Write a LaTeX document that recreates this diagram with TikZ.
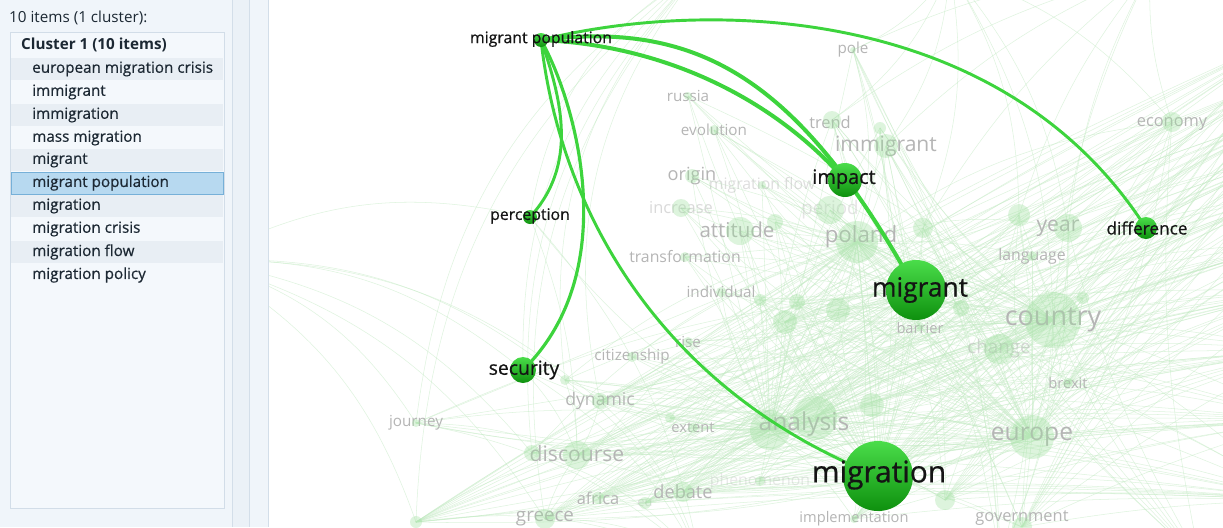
\documentclass[tikz,border=0pt]{standalone}
\usepackage{fontspec}
\setmainfont{Open Sans}
\newfontface\listfont[FakeBold=0.5]{Open Sans}
\newfontface\labfont[FakeBold=0.6]{Open Sans}
\definecolor{panelbg}{HTML}{F0F5FA}
\definecolor{stripbg}{HTML}{EBF1F7}
\definecolor{stripline}{HTML}{D3DEE9}
\definecolor{boxbg}{HTML}{F4F8FC}
\definecolor{boxline}{HTML}{D2DDE8}
\definecolor{rowalt}{HTML}{E8EEF4}
\definecolor{selfill}{HTML}{B7D9F0}
\definecolor{selline}{HTML}{76B0D8}
\definecolor{listtext}{HTML}{1C2833}
\definecolor{edgegreen}{HTML}{3DD43D}
\definecolor{nodetop}{HTML}{4ADD4A}
\definecolor{nodebot}{HTML}{0E900E}
\definecolor{fadetext}{HTML}{B5B5B5}
\definecolor{fadegreen}{HTML}{9EE09E}
\definecolor{faintline}{HTML}{C4EBC4}
\tikzset{
  listitem/.style={anchor=west, inner sep=0pt, text=listtext, font=\listfont\fontsize{13pt}{15pt}\selectfont},
  mnode/.style={circle, inner sep=0pt, minimum size=#1*0.03cm, top color=nodetop, bottom color=nodebot, draw=none},
  mlabel/.style={inner sep=0pt, text=black!92, font=\labfont\fontsize{#1}{#1}\selectfont},
  mainedge/.style={draw=edgegreen, line width=#1, line cap=round},
  fadelabel/.style={inner sep=0pt, text=fadetext, font=\fontsize{#1}{#1}\selectfont},
  bubble/.style={circle, inner sep=0pt, minimum size=#1*0.06cm, fill=fadegreen, fill opacity=0.35, draw=none},
  faint/.style={draw=faintline, line width=0.45pt, opacity=0.55},
}
\begin{document}
\begin{tikzpicture}[x=0.03cm,y=-0.03cm]
\useasboundingbox (0,0) rectangle (1223,527);
\fill[white] (0,0) rectangle (1223,527);

% ---------- left panel ----------
\fill[panelbg] (0,0) rectangle (268,527);
\fill[stripbg] (232,0) rectangle (249,527);
\draw[stripline, line width=0.8pt] (232,0) -- (232,527);
\draw[stripline, line width=0.8pt] (249,0) -- (249,527);
\draw[stripline, line width=0.8pt] (268,0) -- (268,527);
\node[anchor=west, inner sep=0pt, text=listtext, font=\fontsize{13pt}{15pt}\selectfont] (hdr) at (9,18) {10 items (1 cluster):};
\draw[boxline, fill=boxbg, line width=0.8pt] (10,32) rectangle (224,508);
\foreach \yy in {69,115,160,206,252} { \fill[rowalt] (11,\yy-11) rectangle (223,\yy+11); }
\draw[selline, fill=selfill, line width=0.8pt] (11,172) rectangle (223,194);
\node[listitem, font=\bfseries\fontsize{13pt}{15pt}\selectfont] (cl) at (21,45) {Cluster 1 (10 items)};
\node[listitem] (i1) at (32,69) {european migration crisis};
\node[listitem] (i2) at (32,92) {immigrant};
\node[listitem] (i3) at (32,115) {immigration};
\node[listitem] (i4) at (32,138) {mass migration};
\node[listitem] (i5) at (32,160) {migrant};
\node[listitem] (i6) at (32,183) {migrant population};
\node[listitem] (i7) at (32,206) {migration};
\node[listitem] (i8) at (32,229) {migration crisis};
\node[listitem] (i9) at (32,252) {migration flow};
\node[listitem] (i10) at (32,275) {migration policy};

% ---------- network ----------
\begin{scope}
\clip (269,0) rectangle (1223,527);
% main node positions
\coordinate (mp) at (541,40);
\coordinate (perc) at (530,217);
\coordinate (sec) at (523,370);
\coordinate (imp) at (845,180);
\coordinate (mgt) at (916,290);
\coordinate (mig) at (878,476);
\coordinate (diff) at (1146,228);

% background bubbles positions
\foreach \x/\y/\r [count=\i] in {688/96/4,714/130/5,832/120/9,886/146/12,1172/122/10,692/176/7,762/185/4,681/208/9,830/210/14,740/231/14,775/222/8,857/242/21,923/228/10,1019/215/11,1068/228/14,1032/256/5,685/257/5,721/292/5,797/302/8,785/322/12,838/310/12,760/300/6,1053/320/28,1083/298/6,961/308/8,999/349/15,688/342/5,632/357/5,565/380/5,1068/383/5,600/401/8,416/423/4,670/418/5,693/428/5,770/430/20,815/418/22,872/405/12,1032/437/22,532/453/8,577/455/14,683/492/10,598/498/6,645/503/6,545/519/10,945/500/10,1022/527/10,416/522/6,880/128/6,853/50/3,920/326/4,854/519/4,760/481/5}
  { \coordinate (b\i) at (\x,\y); }

% off-canvas ends for the background bundle
\foreach \yy [count=\k] in {30,70,110,150,190,240,290,350,420,500}
  { \coordinate (R\k) at (1300,\yy); }
\coordinate (T1) at (700,-30);
\coordinate (T2) at (950,-30);
\coordinate (T3) at (1150,-30);
\coordinate (L1) at (200,260);
\coordinate (D1) at (700,560);
\coordinate (D2) at (1000,560);
\coordinate (D3) at (1200,560);

% faint background lines
\foreach \i in {1,...,52} {
  \pgfmathsetmacro{\bA}{mod(\i,5)*7-14}
  \pgfmathsetmacro{\bB}{mod(\i,3)*9-9}
  \draw[faint] (b\i) to[bend left=\bA] (mig);
  \draw[faint] (b\i) to[bend left=\bB] (mgt);
  \draw[faint] (b\i) to[bend right=\bA] (b23);
  \draw[faint] (b\i) to[bend left=\bB] (b35);
  \draw[faint] (b\i) to[bend right=\bB] (b38);
  \draw[faint] (b\i) to[bend left=\bA] (b12);
}
\foreach \s in {mig,b35,b36,b38,b40,b41,b44,b45,b46,b47,b42,b31,b23,b26,b30,b20,b43,b51} {
  \foreach \k in {1,...,10} {
    \draw[faint] (\s) to[bend left=4] (R\k);
  }
}
\foreach \s in {b32,b47,b29,b39,b44,sec,perc,b31} {
  \draw[faint] (\s) to[bend left=25] (T1);
  \draw[faint] (\s) to[bend right=20] (L1);
  \draw[faint] (\s) to[bend left=15] (D1);
  \draw[faint] (\s) to[bend right=10] (b35);
  \draw[faint] (\s) to[bend left=10] (b40);
}
\foreach \s in {b5,b15,b23,b14,b13,b4,b3,b49} {
  \draw[faint] (\s) to[bend right=15] (T2);
  \draw[faint] (\s) to[bend left=10] (T3);
  \draw[faint] (\s) to[bend left=12] (D2);
  \draw[faint] (\s) to[bend right=8] (D3);
}

% faded labels
\node[fadelabel=13pt] (l-pole) at (853,50) {pole};
\node[fadelabel=13pt] (l-russia) at (688,96) {russia};
\node[fadelabel=13pt] (l-evolution) at (714,130) {evolution};
\node[fadelabel=14pt] (l-trend) at (830,122) {trend};
\node[fadelabel=18pt] (l-immigrant) at (886,146) {immigrant};
\node[fadelabel=14pt] (l-economy) at (1172,124) {economy};
\node[fadelabel=15.5pt] (l-origin) at (692,176) {origin};
\node[fadelabel=13.5pt, opacity=0.45] (l-flow) at (762,185) {migration flow};
\node[fadelabel=14pt, opacity=0.5] (l-increase) at (681,208) {increase};
\node[fadelabel=16pt, opacity=0.35] (l-period) at (830,210) {period};
\node[fadelabel=17.5pt] (l-attitude) at (737,230) {attitude};
\node[fadelabel=19pt] (l-poland) at (861,237) {poland};
\node[fadelabel=18pt] (l-year) at (1058,228) {year};
\node[fadelabel=13.5pt] (l-language) at (1032,256) {language};
\node[fadelabel=13.5pt] (l-transformation) at (685,257) {transformation};
\node[fadelabel=13pt] (l-individual) at (721,292) {individual};
\node[fadelabel=23pt] (l-country) at (1053,320) {country};
\node[fadelabel=12.5pt] (l-barrier) at (920,328) {barrier};
\node[fadelabel=16pt, opacity=0.5] (l-change) at (999,349) {change};
\node[fadelabel=13pt] (l-rise) at (688,342) {rise};
\node[fadelabel=13pt] (l-citizenship) at (632,357) {citizenship};
\node[fadelabel=12.5pt] (l-brexit) at (1068,383) {brexit};
\node[fadelabel=15pt] (l-dynamic) at (600,401) {dynamic};
\node[fadelabel=13pt] (l-journey) at (416,423) {journey};
\node[fadelabel=12.5pt] (l-extent) at (693,428) {extent};
\node[fadelabel=21pt] (l-analysis) at (804,424) {analysis};
\node[fadelabel=21pt] (l-europe) at (1032,437) {europe};
\node[fadelabel=18pt] (l-discourse) at (577,454) {discourse};
\node[fadelabel=13.5pt, opacity=0.3] (l-phenomenon) at (760,481) {phenomenon};
\node[fadelabel=15.5pt] (l-debate) at (683,492) {debate};
\node[fadelabel=14pt] (l-africa) at (598,498) {africa};
\node[fadelabel=11pt, opacity=0.4] (l-eu) at (645,503) {eu};
\node[fadelabel=16pt] (l-greece) at (545,519) {greece};
\node[fadelabel=12.5pt] (l-implementation) at (854,519) {implementation};
\node[fadelabel=14pt] (l-government) at (1022,518) {government};

% bubbles
\foreach \x/\y/\r [count=\i] in {688/96/4,714/130/5,832/120/9,886/146/12,1172/122/10,692/176/7,762/185/4,681/208/9,830/210/14,740/231/14,775/222/8,857/242/21,923/228/10,1019/215/11,1068/228/14,1032/256/5,685/257/5,721/292/5,797/302/8,785/322/12,838/310/12,760/300/6,1053/320/28,1083/298/6,961/308/8,999/349/15,688/342/5,632/357/5,565/380/5,1068/383/5,600/401/8,416/423/4,670/418/5,693/428/5,770/430/20,815/418/22,872/405/12,1032/437/22,532/453/8,577/455/14,683/492/10,598/498/6,645/503/6,545/519/10,945/500/10,1022/527/10,416/522/6,880/128/6,853/50/3,920/326/4,854/519/4,760/481/5}
  { \node[bubble=\r] (bn\i) at (b\i) {}; }

% main edges
\draw[mainedge=2.5pt] (mp) .. controls (700,0) and (1000,0) .. (diff);
\draw[mainedge=3.4pt] (mp) .. controls (660,45) and (770,95) .. (imp);
\draw[mainedge=3.4pt] (mp) .. controls (700,20) and (800,80) .. (mgt);
\draw[mainedge=2.5pt] (mp) .. controls (562,100) and (578,165) .. (perc);
\draw[mainedge=2.7pt] (mp) .. controls (575,100) and (625,270) .. (sec);
\draw[mainedge=2.5pt] (mp) .. controls (560,210) and (660,390) .. (mig);

% main nodes
\node[mnode=14] (mp-c) at (mp) {};
\node[mnode=14] (perc-c) at (perc) {};
\node[mnode=26] (sec-c) at (sec) {};
\node[mnode=34] (imp-c) at (imp) {};
\node[mnode=60] (mgt-c) at (mgt) {};
\node[mnode=70] (mig-c) at (mig) {};
\node[mnode=22] (diff-c) at (diff) {};

% main labels
\node[mlabel=13.5pt] (mp-l) at (541,39) {migrant population};
\node[mlabel=13.5pt] (perc-l) at (530,216) {perception};
\node[mlabel=16.5pt] (sec-l) at (524,370) {security};
\node[mlabel=17pt] (imp-l) at (844,179) {impact};
\node[mlabel=22.5pt] (mgt-l) at (920,290) {migrant};
\node[mlabel=25.5pt] (mig-l) at (879,475) {migration};
\node[mlabel=14.7pt] (diff-l) at (1147,228) {difference};
\end{scope}
\end{tikzpicture}
\end{document}
